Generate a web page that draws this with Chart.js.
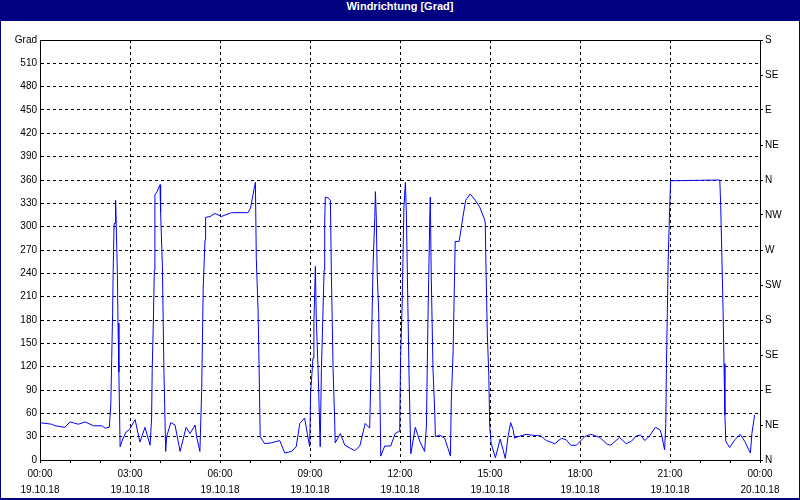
<!DOCTYPE html>
<html>
<head>
<meta charset="utf-8">
<script src="https://cdn.jsdelivr.net/npm/chart.js@4"></script>
<style>
html,body{margin:0;padding:0;background:#fff;}
#frame{position:relative;width:800px;height:500px;background:#000080;overflow:hidden;}
#title{height:21px;line-height:20px;color:#fff;text-align:center;font:bold 11px "Liberation Sans",Arial,sans-serif;}
#plot{position:absolute;left:1px;top:21px;width:798px;height:477px;background:#fff;}
</style>
</head>
<body>
<div id="frame">
<div id="title">Windrichtung [Grad]</div>
<div id="plot"><canvas id="chart" width="798" height="477"></canvas></div>
</div>
<script>
// time in hours since 19.10.18 00:00
const hours = [
0, 0.39, 0.5, 0.83, 1.0, 1.28, 1.5, 1.78, 2.06, 2.17, 2.31, 2.36, 2.39, 2.42, 2.44, 2.47, 2.5, 2.52, 2.54, 2.58, 2.6, 2.63, 2.67, 2.76, 2.87, 2.98, 3.17, 3.33, 3.5, 3.67, 3.72, 3.74, 3.78, 3.81, 3.83, 3.9, 4.0, 4.02, 4.08, 4.13, 4.19, 4.22, 4.36, 4.5, 4.67, 4.87, 5.0, 5.17, 5.22, 5.33, 5.39, 5.44, 5.5, 5.52, 5.67, 5.83, 6.0,
6.04, 6.38, 6.93, 7.02, 7.1, 7.18, 7.21, 7.27, 7.3, 7.34, 7.49, 7.71, 7.99, 8.16, 8.38, 8.54, 8.66, 8.82, 8.91, 8.99, 9.02, 9.1, 9.13, 9.18, 9.21, 9.27, 9.34, 9.38, 9.47, 9.49, 9.51, 9.6, 9.68, 9.71, 9.77, 9.82, 9.84, 10.01, 10.16, 10.49, 10.66, 10.84, 10.99, 11.04, 11.1, 11.16, 11.18, 11.21, 11.24, 11.29, 11.32, 11.36, 11.49, 11.69, 11.84, 11.93,
11.99, 12.02, 12.07, 12.13, 12.18, 12.21, 12.24, 12.3, 12.36, 12.4, 12.51, 12.66, 12.82, 12.88, 12.93, 12.99, 13.01, 13.04, 13.1, 13.16, 13.18, 13.32, 13.49, 13.6, 13.68, 13.71, 13.77, 13.84, 13.97, 14.04, 14.1, 14.19, 14.34, 14.51, 14.66, 14.8, 14.84, 14.88, 14.91, 14.96, 14.99, 15.04, 15.18, 15.34, 15.51, 15.6, 15.69, 15.77, 15.82, 15.93, 16.21, 16.38, 16.69, 16.88, 17.16, 17.38, 17.54, 17.69, 17.88,
17.93, 18.16, 18.36, 18.66, 18.88, 19.02, 19.32, 19.54, 19.71, 19.88, 20.02, 20.16, 20.32, 20.51, 20.66, 20.71, 20.82, 20.86, 20.88, 20.91, 20.94, 20.99, 21.02, 22.66, 22.69, 22.73, 22.77, 22.8, 22.83, 22.86, 22.99, 23.16, 23.34, 23.49, 23.68, 23.73, 23.82
];

const degrees = [
48, 46, 44, 42, 49, 46, 49, 44, 44, 41, 42, 71, 129, 188, 245, 304, 304, 334, 304, 238, 176, 113, 17, 27, 36, 39, 52, 23, 42, 19, 54, 116, 180, 244, 341, 345, 354, 319, 249, 116, 11, 30, 48, 45, 11, 42, 34, 45, 30, 11, 90, 221, 283, 312, 313, 317, 314,
313, 318, 318, 324, 341, 357, 259, 191, 126, 30, 21, 22, 25, 9, 11, 17, 47, 54, 34, 17, 86, 131, 178, 249, 181, 116, 17, 116, 244, 306, 338, 337, 334, 244, 116, 54, 22, 34, 19, 12, 18, 47, 41, 128, 247, 313, 345, 311, 240, 190, 109, 5, 18, 18, 34, 36,
37, 133, 197, 324, 357, 321, 252, 111, 8, 17, 42, 24, 11, 43, 176, 306, 338, 240, 116, 60, 30, 32, 28, 15, 5, 77, 139, 281, 281, 298, 313, 334, 342, 334, 325, 311, 306, 221, 163, 109, 43, 21, 3, 27, 2, 30, 48, 39, 28, 30, 33, 32, 31, 25, 21, 28, 26, 19, 19,
21, 30, 33, 29, 21, 19, 29, 21, 24, 31, 32, 25, 31, 42, 39, 34, 13, 47, 118, 186, 257, 325, 359, 360, 327, 260, 191, 124, 58, 24, 16, 26, 33, 24, 9, 34, 58
];

const hourLabels = ["00:00", "03:00", "06:00", "09:00", "12:00", "15:00", "18:00", "21:00", "00:00"];
const dateLabels = ["19.10.18", "19.10.18", "19.10.18", "19.10.18", "19.10.18", "19.10.18", "19.10.18", "19.10.18", "20.10.18"];
const compassLabels = ["N", "NE", "E", "SE", "S", "SW", "W", "NW", "N", "NE", "E", "SE", "S"];

const points = hours.map((h, i) => ({x: h, y: degrees[i]}));

const tickFont = {family: "'Liberation Sans', Arial, sans-serif", size: 10};

const topBorder = {
  id: "topBorder",
  beforeDatasetsDraw(chart) {
    const a = chart.chartArea;
    const ctx = chart.ctx;
    ctx.save();
    ctx.strokeStyle = "#000";
    ctx.lineWidth = 1;
    ctx.beginPath();
    ctx.moveTo(a.left, Math.round(a.top) + 0.5);
    ctx.lineTo(a.right, Math.round(a.top) + 0.5);
    ctx.stroke();
    ctx.restore();
  }
};

new Chart(document.getElementById("chart"), {
  type: "line",
  data: {
    datasets: [{
      data: points,
      borderColor: "#0000ff",
      borderWidth: 1,
      pointRadius: 0,
      tension: 0,
      fill: false,
      yAxisID: "y"
    }]
  },
  options: {
    responsive: false,
    animation: false,
    devicePixelRatio: 1,
    layout: {padding: {top: 19, left: 0, right: 0, bottom: 0}},
    plugins: {legend: {display: false}, tooltip: {enabled: false}},
    scales: {
      x: {
        type: "linear",
        min: 0,
        max: 24,
        afterFit: s => { s.height = 38; },
        ticks: {
          stepSize: 1,
          autoSkip: false,
          maxRotation: 0,
          padding: 3,
          color: "#000",
          font: {...tickFont, lineHeight: 1.6},
          callback: v => v % 3 === 0 ? [hourLabels[v / 3], dateLabels[v / 3]] : ""
        },
        grid: {
          color: ctx => (ctx.tick && ctx.tick.value % 3 === 0 && ctx.tick.value > 0 && ctx.tick.value < 24) ? "#000" : "rgba(0,0,0,0)",
          tickColor: "#000",
          tickLength: 3
        },
        border: {color: "#000", dash: [3, 3]}
      },
      y: {
        position: "left",
        min: 0,
        max: 540,
        afterFit: s => { s.width = 39; },
        ticks: {
          stepSize: 30,
          padding: 3,
          color: "#000",
          font: tickFont,
          callback: v => v === 540 ? "Grad" : v
        },
        grid: {
          drawTicks: false,
          color: ctx => (ctx.tick && ctx.tick.value > 0 && ctx.tick.value < 540) ? "#000" : "rgba(0,0,0,0)"
        },
        border: {color: "#000", dash: [3, 3]}
      },
      y2: {
        position: "right",
        min: 0,
        max: 540,
        afterFit: s => { s.width = 39; },
        ticks: {
          stepSize: 45,
          padding: 2,
          color: "#000",
          font: tickFont,
          callback: v => compassLabels[v / 45]
        },
        grid: {drawOnChartArea: false, tickLength: 3, color: "#000"},
        border: {color: "#000"}
      }
    }
  },
  plugins: [topBorder]
});
</script>
</body>
</html>
